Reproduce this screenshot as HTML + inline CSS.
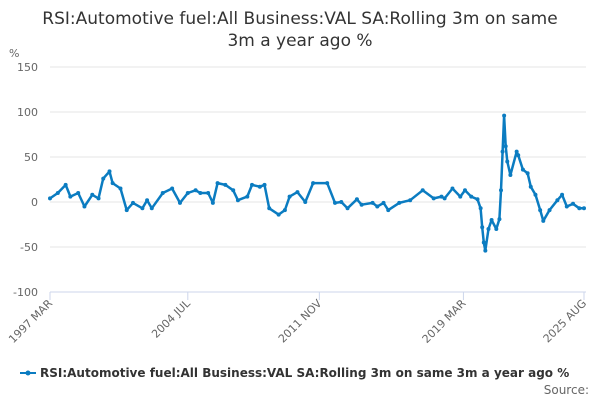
<!DOCTYPE html>
<html><head><meta charset="utf-8"><style>
body{margin:0;background:#fff;font-family:"DejaVu Sans","Liberation Sans",sans-serif}
svg text{font-family:"DejaVu Sans","Liberation Sans",sans-serif}
</style></head><body>
<svg id="c" width="600" height="400" xmlns="http://www.w3.org/2000/svg">
<text x="300" y="24" text-anchor="middle" font-size="17" fill="#333">RSI:Automotive fuel:All Business:VAL SA:Rolling 3m on same</text>
<text x="300" y="46" text-anchor="middle" font-size="17" fill="#333">3m a year ago %</text>
<text x="9" y="57" font-size="11" fill="#666">%</text>
<g id="grid"></g><g id="xax"></g><g id="series"></g>
<g>
<line x1="20" y1="373" x2="36" y2="373" stroke="#0b7cc1" stroke-width="2"/>
<circle cx="28" cy="373" r="2.5" fill="#0b7cc1"/>
<text x="40" y="377" font-size="12" font-weight="bold" fill="#333">RSI:Automotive fuel:All Business:VAL SA:Rolling 3m on same 3m a year ago %</text>
</g>
<text x="589" y="394" text-anchor="end" font-size="12" fill="#666">Source:</text>
</svg>
<script>
const months=[0,5,10,13,18,22,27,31,34,38,40,45,49,53,59,62,65,72,78,83,88,93,96,101,104,107,112,117,120,126,129,134,137,140,146,150,153,158,163,168,177,182,186,190,196,199,206,209,213,216,223,230,238,245,250,252,257,262,265,269,273,275,276,277,278,280,282,285,287,288,289,290,291,292,294,298,299,302,305,307,310,313,315,319,324,327,330,334,338,341];
const values=[4,10,19,6,10,-5,8,4,26,34,21,15,-9,-1,-7,2,-7,10,15,-1,10,13,10,10,-1,21,19,13,2,6,19,17,19,-7,-14,-9,6,11,0,21,21,-1,0,-7,3,-3,-1,-5,-1,-9,-1,2,13,4,6,4,15,6,13,6,3,-7,-28,-45,-54,-30,-20,-30,-19,13,56,96,62,45,30,56,52,36,32,17,8,-9,-21,-9,2,8,-5,-2,-7,-7];
const yTicks=[150,100,50,0,-50,-100];
const xTickMonths=[0,88,172,264,341];
const xTickLabels=["1997 MAR","2004 JUL","2011 NOV","2019 MAR","2025 AUG"];
const X0=50,X1=584,Y0=67,Y1=292,MAXM=341;
const xs=m=>X0+(X1-X0)*m/MAXM;
const ys=v=>Y0+(150-v)*(Y1-Y0)/250;
const NS="http://www.w3.org/2000/svg";
function mk(t,a,p){const e=document.createElementNS(NS,t);for(const k in a)e.setAttribute(k,a[k]);p.appendChild(e);return e;}
const grid=document.getElementById('grid');
yTicks.forEach(v=>{
 const l=mk('line',{x1:X0,x2:X1+2,y1:ys(v),y2:ys(v),stroke:v===-100?'#ccd6eb':'#e6e6e6'},grid);
 
 
 const t=mk('text',{x:38,y:ys(v)+4,'text-anchor':'end','font-size':11,fill:'#666'},grid);
 t.textContent=v;
 
 
});
const xax=document.getElementById('xax');
xTickMonths.forEach((m,i)=>{
 const x=xs(m);
 const tk=mk('line',{x1:x,x2:x,y1:Y1,y2:Y1+8,stroke:'#ccd6eb'},xax);
 
 
 const t=mk('text',{x:x+3,y:Y1+12,'text-anchor':'end','font-size':11,fill:'#666',transform:`rotate(-45 ${x+3} ${Y1+12})`},xax);
 t.textContent=xTickLabels[i];
 
 
});
const s=document.getElementById('series');
const d=months.map((m,i)=>(i?'L':'M')+xs(m).toFixed(1)+' '+ys(values[i]).toFixed(1)).join(' ');
const p=mk('path',{d:d,fill:'none',stroke:'#0b7cc1','stroke-width':2.5,'stroke-linejoin':'round'},s);


months.forEach((m,i)=>{
 const c=mk('circle',{cx:xs(m),cy:ys(values[i]),r:2,fill:'#0b7cc1'},s);
 
 
});
</script>
</body></html>
